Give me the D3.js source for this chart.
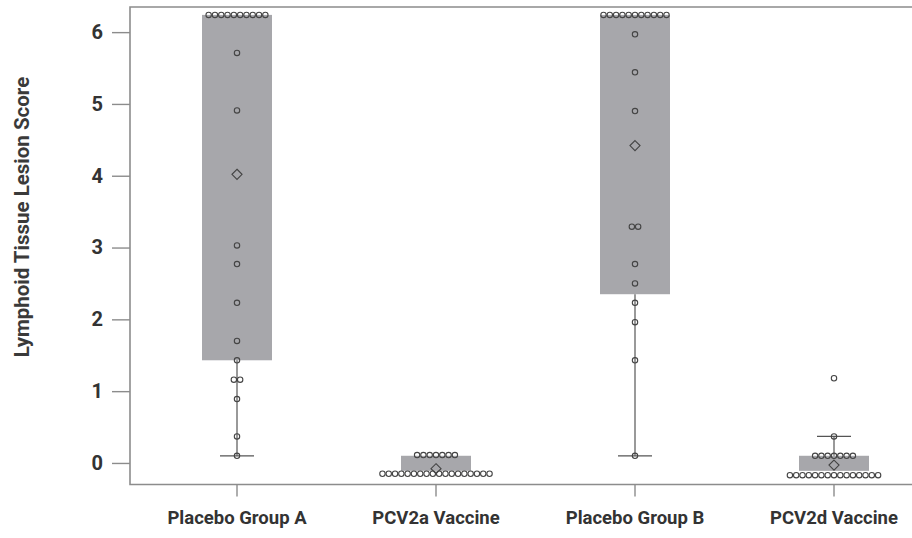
<!DOCTYPE html>
<html>
<head>
<meta charset="utf-8">
<script src="https://cdn.jsdelivr.net/npm/d3@7"></script>
<style>
  html, body { margin: 0; padding: 0; background: #fff; }
  svg { display: block; }
</style>
</head>
<body>
<svg id="chart" width="912" height="538"></svg>
<script>
// ---- Data ----
const categories = ["Placebo Group A", "PCV2a Vaccine", "Placebo Group B", "PCV2d Vaccine"];

const scoresPlaceboA = [6.24, 6.24, 6.24, 6.24, 6.24, 6.24, 6.24, 6.24, 6.24, 6.24,
  5.71, 4.91, 3.03, 2.77, 2.23, 1.70, 1.43, 1.16, 1.16, 0.89, 0.37, 0.10];
const scoresPCV2a = [0.11, 0.11, 0.11, 0.11, 0.11, 0.11, 0.11,
  -0.15, -0.15, -0.15, -0.15, -0.15, -0.15, -0.15, -0.15, -0.15,
  -0.15, -0.15, -0.15, -0.15, -0.15, -0.15, -0.15, -0.15, -0.15];
const scoresPlaceboB = [6.24, 6.24, 6.24, 6.24, 6.24, 6.24, 6.24, 6.24, 6.24, 6.24, 6.24,
  5.97, 5.44, 4.90, 3.29, 3.29, 2.77, 2.50, 2.23, 1.96, 1.43, 0.10];
const scoresPCV2d = [1.18, 0.37, 0.10, 0.10, 0.10, 0.10, 0.10, 0.10, 0.10,
  -0.17, -0.17, -0.17, -0.17, -0.17, -0.17, -0.17, -0.17,
  -0.17, -0.17, -0.17, -0.17, -0.17, -0.17, -0.17];

const boxLower = [1.43, -0.11, 2.35, -0.11];
const boxUpper = [6.24, 0.10, 6.24, 0.10];
const whiskerLow = [0.10, null, 0.10, null];
const whiskerHigh = [null, null, null, 0.37];
const groupMeans = [4.02, -0.08, 4.42, -0.03];

const yTicks = [0, 1, 2, 3, 4, 5, 6];
const yTitle = "Lymphoid Tissue Lesion Score";

const allScores = [scoresPlaceboA, scoresPCV2a, scoresPlaceboB, scoresPCV2d];

// ---- Layout ----
const svg = d3.select("#chart");
const plot = { left: 130, top: 7, bottom: 484.5, right: 940 };

const x = d3.scaleBand().domain(categories).range([137.5, 933.5]).paddingInner(0).paddingOuter(0);
const y = d3.scaleLinear().domain([-0.3, 6.35]).range([plot.bottom, plot.top]);

const boxW = 70, capW = 34, dotGap = 6.3, dotR = 2.7;
const FONT = "Roboto, 'Noto Sans', sans-serif";
const cx = c => x(c) + x.bandwidth() / 2;

// boxes
const g = svg.append("g");
categories.forEach((c, i) => {
  g.append("rect")
    .attr("x", cx(c) - boxW / 2)
    .attr("width", boxW)
    .attr("y", y(boxUpper[i]))
    .attr("height", y(boxLower[i]) - y(boxUpper[i]))
    .attr("fill", "#a7a7ab");
  if (whiskerLow[i] !== null) {
    g.append("line").attr("x1", cx(c)).attr("x2", cx(c))
      .attr("y1", y(boxLower[i])).attr("y2", y(whiskerLow[i]))
      .attr("stroke", "#555").attr("stroke-width", 1.2);
    g.append("line").attr("x1", cx(c) - capW / 2).attr("x2", cx(c) + capW / 2)
      .attr("y1", y(whiskerLow[i])).attr("y2", y(whiskerLow[i]))
      .attr("stroke", "#555").attr("stroke-width", 1.2);
  }
  if (whiskerHigh[i] !== null) {
    g.append("line").attr("x1", cx(c)).attr("x2", cx(c))
      .attr("y1", y(boxUpper[i])).attr("y2", y(whiskerHigh[i]))
      .attr("stroke", "#555").attr("stroke-width", 1.2);
    g.append("line").attr("x1", cx(c) - capW / 2).attr("x2", cx(c) + capW / 2)
      .attr("y1", y(whiskerHigh[i])).attr("y2", y(whiskerHigh[i]))
      .attr("stroke", "#555").attr("stroke-width", 1.2);
  }
});

// dots (values at the same score are laid side by side)
categories.forEach((c, i) => {
  const groups = d3.groups(allScores[i], v => v);
  groups.forEach(([val, arr]) => {
    const n = arr.length;
    arr.forEach((v, k) => {
      g.append("circle")
        .attr("cx", cx(c) + (k - (n - 1) / 2) * dotGap)
        .attr("cy", y(v))
        .attr("r", dotR)
        .attr("fill", "none")
        .attr("stroke", "#444")
        .attr("stroke-width", 1.1);
    });
  });
  // mean diamond
  g.append("path")
    .attr("d", d3.symbol().type(d3.symbolDiamond2).size(65)())
    .attr("transform", `translate(${cx(c)},${y(groupMeans[i])})`)
    .attr("fill", "none")
    .attr("stroke", "#444")
    .attr("stroke-width", 1.1);
});

// frame
svg.append("path")
  .attr("d", `M${plot.right},${plot.top}H${plot.left}V${plot.bottom}H${plot.right}`)
  .attr("fill", "none").attr("stroke", "#8c8c8c").attr("stroke-width", 1.6);

// y axis
const yAxis = svg.append("g")
  .attr("transform", `translate(${plot.left},0)`)
  .call(d3.axisLeft(y).tickValues(yTicks).tickSize(18).tickPadding(9).tickFormat(d3.format("d")));
yAxis.select(".domain").remove();
yAxis.selectAll(".tick line").attr("stroke", "#8c8c8c").attr("stroke-width", 1.4);
yAxis.selectAll(".tick text")
  .attr("fill", "#333").style("font-family", FONT).style("font-size", "20px").style("font-weight", 700);

// x axis
const xAxis = svg.append("g")
  .attr("transform", `translate(0,${plot.bottom})`)
  .call(d3.axisBottom(x).tickSize(12).tickPadding(14));
xAxis.select(".domain").remove();
xAxis.selectAll(".tick line").attr("stroke", "#8c8c8c").attr("stroke-width", 1.4);
xAxis.selectAll(".tick text")
  .attr("fill", "#333").style("font-family", FONT).style("font-size", "18.5px").style("font-weight", 700);

// y title
svg.append("text")
  .attr("transform", `translate(29,${217}) rotate(-90)`)
  .attr("text-anchor", "middle")
  .attr("fill", "#3a3a3a")
  .style("font-family", FONT).style("font-size", "20.5px").style("font-weight", 700)
  .text(yTitle);
</script>
</body>
</html>
